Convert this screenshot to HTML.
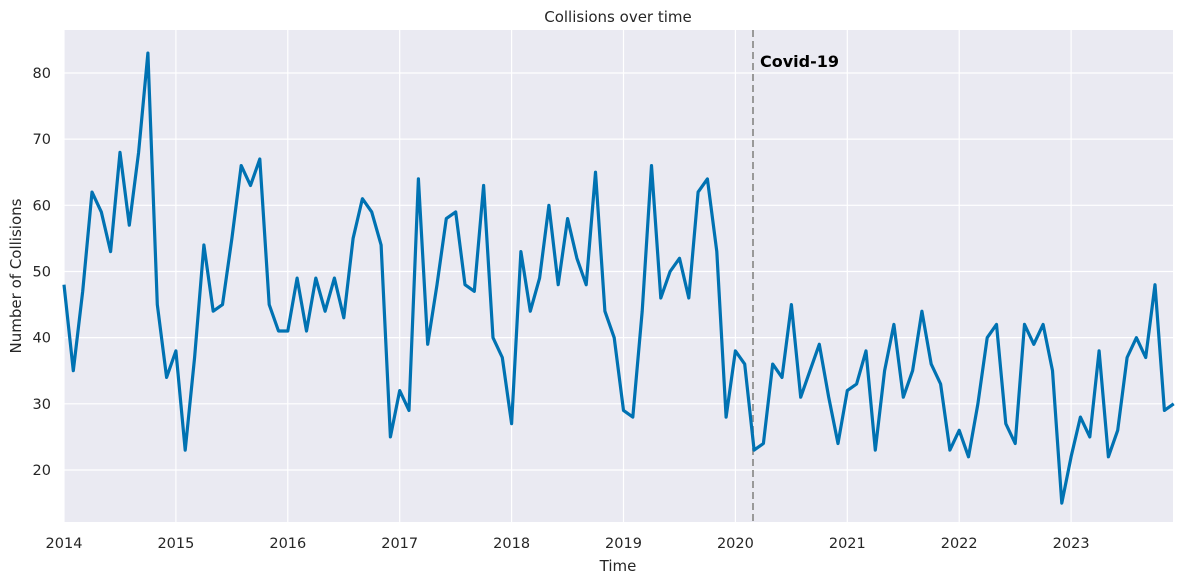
<!DOCTYPE html><html><head><meta charset="utf-8"><style>body{margin:0;background:#fff}svg{display:block;font-family:"DejaVu Sans","Liberation Sans",sans-serif}</style></head><body>
<svg id="s" width="1183" height="584" xmlns="http://www.w3.org/2000/svg"></svg>
<script>
const d=[48,35,47,62,59,53,68,57,68,83,45,34,38,23,37,54,44,45,55,66,63,67,45,41,41,49,41,49,44,49,43,55,61,59,54,25,32,29,64,39,48,58,59,48,47,63,40,37,27,53,44,49,60,48,58,52,48,65,44,40,29,28,44,66,46,50,52,46,62,64,53,28,38,36,23,24,36,34,45,31,35,39,31,24,32,33,38,23,35,42,31,35,44,36,33,23,26,22,30,40,42,27,24,42,39,42,35,15,22,28,25,38,22,26,37,40,37,48,29,30];
const L=64,R=1173,T=30,B=522;
const X=i=>L+i*(111.9/12), Y=v=>470-(v-20)*6.617;
let s=`<rect x="${L}" y="${T}" width="${R-L}" height="${B-T}" fill="#eaeaf2"/>`;
for(let y=0;y<10;y++){const x=L+y*111.9;s+=`<line x1="${x}" y1="${T}" x2="${x}" y2="${B}" stroke="#fff" stroke-width="1.2"/><text x="${x}" y="${B+26}" font-size="14.5" text-anchor="middle" fill="#262626">${2014+y}</text>`;}
for(let v=20;v<=80;v+=10){const y=Y(v);s+=`<line x1="${L}" y1="${y}" x2="${R}" y2="${y}" stroke="#fff" stroke-width="1.2"/><text x="${L-13}" y="${y+5}" font-size="14.5" text-anchor="end" fill="#262626">${v}</text>`;}
s+=`<line x1="753" y1="${T}" x2="753" y2="${B}" stroke="#999" stroke-width="2" stroke-dasharray="7,4"/>`;
s+=`<polyline fill="none" stroke="#0072b2" stroke-width="3.2" stroke-linejoin="round" points="${d.map((v,i)=>X(i).toFixed(1)+','+Y(v).toFixed(1)).join(' ')}"/>`;
s+=`<text x="760" y="67" font-size="16" font-weight="bold" fill="#000">Covid-19</text>`;
s+=`<text x="618" y="22" font-size="15" text-anchor="middle" fill="#262626">Collisions over time</text>`;
s+=`<text x="618" y="571" font-size="15" text-anchor="middle" fill="#262626">Time</text>`;
s+=`<text transform="translate(21,276) rotate(-90)" font-size="15" text-anchor="middle" fill="#262626">Number of Collisions</text>`;
document.getElementById('s').innerHTML=s;
</script></body></html>
